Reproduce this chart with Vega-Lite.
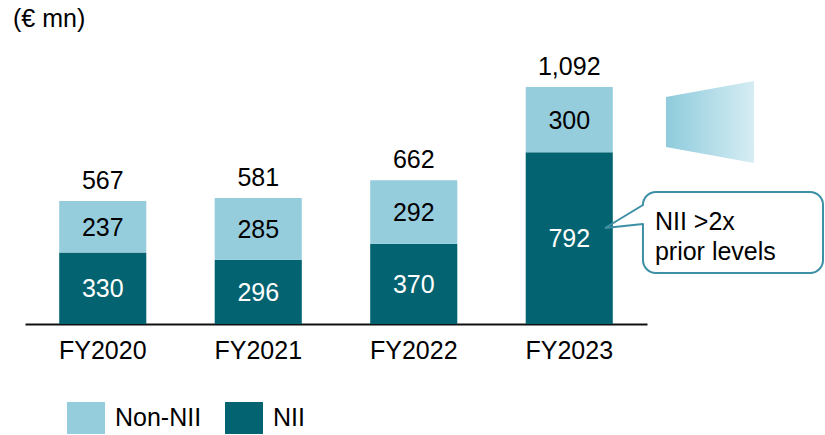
{
  "$schema": "https://vega.github.io/schema/vega-lite/v6.json",
  "width": 825,
  "height": 324,
  "autosize": {"type": "none"},
  "padding": {"left": 0, "top": 0, "right": 0, "bottom": 111},
  "config": {
    "view": {"stroke": null},
    "font": "Liberation Sans",
    "text": {"font": "Liberation Sans"}
  },
  "layer": [
    {
      "data": {
        "values": [
          {"year": "FY2020", "segment": "NII", "value": 330},
          {"year": "FY2020", "segment": "Non-NII", "value": 237},
          {"year": "FY2021", "segment": "NII", "value": 296},
          {"year": "FY2021", "segment": "Non-NII", "value": 285},
          {"year": "FY2022", "segment": "NII", "value": 370},
          {"year": "FY2022", "segment": "Non-NII", "value": 292},
          {"year": "FY2023", "segment": "NII", "value": 792},
          {"year": "FY2023", "segment": "Non-NII", "value": 300}
        ]
      },
      "encoding": {
        "x": {
          "field": "year",
          "type": "nominal",
          "sort": null,
          "scale": {"range": [25, 647], "paddingInner": 0.44, "paddingOuter": 0.22},
          "axis": {
            "title": null,
            "labelAngle": 0,
            "labelFontSize": 25,
            "labelColor": "#000000",
            "labelFont": "Liberation Sans",
            "labelPadding": 14,
            "ticks": false,
            "domainColor": "#111111",
            "domainWidth": 2,
            "domainOpacity": 1
          }
        }
      },
      "layer": [
        {
          "transform": [
            {"calculate": "datum.segment === 'NII' ? 0 : 1", "as": "rank"}
          ],
          "mark": {"type": "bar"},
          "encoding": {
            "y": {
              "field": "value",
              "type": "quantitative",
              "stack": "zero",
              "scale": {"domain": [0, 1493], "nice": false, "zero": true},
              "axis": null
            },
            "order": {"field": "rank", "type": "quantitative", "sort": "ascending"},
            "color": {
              "field": "segment",
              "type": "nominal",
              "scale": {"domain": ["Non-NII", "NII"], "range": ["#96CDDD", "#036370"]},
              "legend": {
                "title": null,
                "orient": "none",
                "direction": "horizontal",
                "legendX": 67,
                "legendY": 399,
                "padding": 0,
                "symbolType": "M-1,-0.84H1V0.84H-1Z",
                "symbolSize": 1444,
                "symbolStrokeWidth": 0,
                "symbolOpacity": 1,
                "labelFontSize": 25,
                "labelFont": "Liberation Sans",
                "labelColor": "#000000",
                "labelOffset": 10,
                "columnPadding": 23
              }
            }
          }
        },
        {
          "transform": [
            {"stack": "value", "groupby": ["year"], "sort": [{"field": "segment", "order": "ascending"}], "as": ["v0", "v1"]},
            {"calculate": "(datum.v0 + datum.v1) / 2", "as": "mid"}
          ],
          "mark": {"type": "text", "fontSize": 25, "baseline": "middle", "dy": 1},
          "encoding": {
            "y": {"field": "mid", "type": "quantitative", "axis": null},
            "text": {"field": "value", "type": "quantitative"},
            "color": {"condition": {"test": "datum.segment === 'NII'", "value": "#ffffff"}, "value": "#000000"}
          }
        },
        {
          "transform": [
            {"aggregate": [{"op": "sum", "field": "value", "as": "total"}], "groupby": ["year"]}
          ],
          "mark": {"type": "text", "fontSize": 25, "baseline": "alphabetic", "dy": -12, "color": "#000000"},
          "encoding": {
            "y": {"field": "total", "type": "quantitative", "axis": null},
            "text": {"field": "total", "type": "quantitative", "format": ","}
          }
        }
      ]
    },
    {
      "layer": [
        {
          "data": {"values": [
            {"x": 3.622, "top": 1046, "bottom": 815.6},
            {"x": 4.188, "top": 1119.7, "bottom": 741.8}
          ]},
          "mark": {
            "type": "area",
            "color": {
              "gradient": "linear",
              "x1": 0, "y1": 0, "x2": 1, "y2": 0,
              "stops": [
                {"offset": 0, "color": "#8ECBDC"},
                {"offset": 1, "color": "#D6EDF3"}
              ]
            }
          },
          "encoding": {
            "x": {"field": "x", "type": "quantitative", "scale": {"domain": [-0.6608, 4.6447], "nice": false, "zero": false}, "axis": null},
            "y": {"field": "top", "type": "quantitative", "axis": null},
            "y2": {"field": "bottom"}
          }
        },
        {
          "data": {"values": [
            {"x": 3.474, "x2": 4.632, "y": 608.2, "y2": 235.0}
          ]},
          "mark": {"type": "rect", "fill": "#ffffff", "stroke": "#3C8FA5", "strokeWidth": 2, "cornerRadius": 13},
          "encoding": {
            "x": {"field": "x", "type": "quantitative", "scale": {"domain": [-0.6608, 4.6447], "nice": false, "zero": false}, "axis": null},
            "x2": {"field": "x2"},
            "y": {"field": "y", "type": "quantitative", "axis": null},
            "y2": {"field": "y2"}
          }
        },
        {
          "data": {"values": [
            {"x": 3.474, "y": 545, "y2": 464}
          ]},
          "mark": {"type": "rule", "color": "#ffffff", "strokeWidth": 4},
          "encoding": {
            "x": {"field": "x", "type": "quantitative", "scale": {"domain": [-0.6608, 4.6447], "nice": false, "zero": false}, "axis": null},
            "y": {"field": "y", "type": "quantitative", "axis": null},
            "y2": {"field": "y2"}
          }
        },
        {
          "data": {"values": [
            {"o": 1, "x": 3.474, "y": 548.3},
            {"o": 2, "x": 3.230, "y": 442.3},
            {"o": 3, "x": 3.474, "y": 460.8}
          ]},
          "mark": {"type": "line", "color": "#3C8FA5", "strokeWidth": 2, "strokeJoin": "miter"},
          "encoding": {
            "x": {"field": "x", "type": "quantitative", "scale": {"domain": [-0.6608, 4.6447], "nice": false, "zero": false}, "axis": null},
            "y": {"field": "y", "type": "quantitative", "axis": null},
            "order": {"field": "o", "type": "quantitative"}
          }
        },
        {
          "data": {"values": [
            {"x": 3.551, "y": 433.1, "label": "NII >2x"},
            {"x": 3.551, "y": 294.9, "label": "prior levels"},
            {"x": -0.577, "y": 1368.5, "label": "(€ mn)"}
          ]},
          "mark": {"type": "text", "fontSize": 25, "align": "left", "baseline": "alphabetic", "color": "#000000"},
          "encoding": {
            "x": {"field": "x", "type": "quantitative", "scale": {"domain": [-0.6608, 4.6447], "nice": false, "zero": false}, "axis": null},
            "y": {"field": "y", "type": "quantitative", "axis": null},
            "text": {"field": "label", "type": "nominal"}
          }
        }
      ]
    }
  ],
  "resolve": {"scale": {"x": "independent"}}
}
